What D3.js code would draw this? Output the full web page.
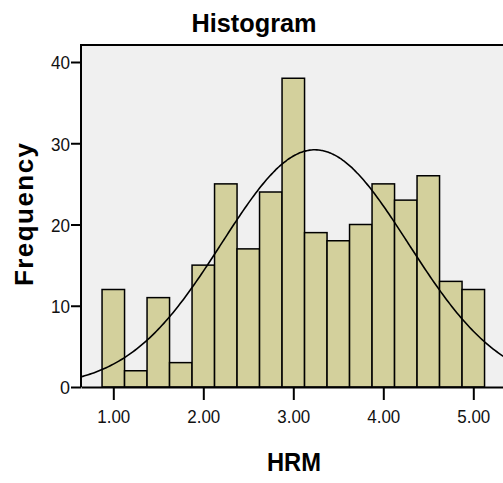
<!DOCTYPE html>
<html>
<head>
  <meta charset="utf-8">
  <title>Histogram</title>
  <style>
    body {
      margin: 0;
      background-color: white;
      font-family: Arial, "Liberation Sans", sans-serif;
    }
    .title { font-weight: bold; text-anchor: middle; }
    .axis-label { font-weight: bold; text-anchor: middle; }
  </style>
  <script src="https://d3js.org/d3.v7.min.js"></script>
</head>
<body>
  <svg id="chart" width="503" height="483"></svg>
  <script>
    // Bin centres (HRM) and counts
    const binCenters = [1.00, 1.25, 1.50, 1.75, 2.00, 2.25, 2.50, 2.75, 3.00,
                        3.25, 3.50, 3.75, 4.00, 4.25, 4.50, 4.75, 5.00];
    const counts = [12, 2, 11, 3, 15, 25, 17, 24, 38, 19, 18, 20, 25, 23, 26, 13, 12];
    const binWidth = 0.25;

    // Normal curve parameters (estimated from the overlay)
    const curveMean = 3.24;
    const curveSd = 1.035;

    const xTicks = [1, 2, 3, 4, 5];
    const yTicks = [0, 10, 20, 30, 40];

    const svg = d3.select("#chart");

    // Plot frame
    const plotLeft = 81, plotTop = 45, plotBottom = 387, plotRight = 530;

    const x = d3.scaleLinear()
      .domain([1 - (113.3 - plotLeft) / 90, 1 + (plotRight - 113.3) / 90])
      .range([plotLeft, plotRight]);
    const y = d3.scaleLinear()
      .domain([0, 40])
      .range([plotBottom, 62]);

    // Background
    svg.append("rect")
      .attr("x", plotLeft)
      .attr("y", plotTop)
      .attr("width", plotRight - plotLeft)
      .attr("height", plotBottom - plotTop)
      .attr("fill", "#f0f0f0");

    svg.append("defs").append("clipPath")
      .attr("id", "plot-clip")
      .append("rect")
      .attr("x", plotLeft)
      .attr("y", plotTop)
      .attr("width", plotRight - plotLeft)
      .attr("height", plotBottom - plotTop);

    // Bars
    svg.append("g")
      .selectAll("rect")
      .data(binCenters)
      .enter()
      .append("rect")
      .attr("x", d => x(d - binWidth / 2))
      .attr("y", (d, i) => y(counts[i]))
      .attr("width", d => x(d + binWidth / 2) - x(d - binWidth / 2))
      .attr("height", (d, i) => y(0) - y(counts[i]))
      .attr("fill", "#d3d09c")
      .attr("stroke", "black")
      .attr("stroke-width", 1.5);

    // Normal curve scaled to counts
    const total = d3.sum(counts);
    const density = v => total * binWidth / (curveSd * Math.sqrt(2 * Math.PI)) *
      Math.exp(-0.5 * Math.pow((v - curveMean) / curveSd, 2));
    const curvePts = d3.range(x.domain()[0], x.domain()[1], 0.02);

    svg.append("path")
      .datum(curvePts)
      .attr("clip-path", "url(#plot-clip)")
      .attr("fill", "none")
      .attr("stroke", "black")
      .attr("stroke-width", 1.6)
      .attr("d", d3.line().x(d => x(d)).y(d => y(density(d))).curve(d3.curveBasis));

    // Frame lines (left and top)
    svg.append("path")
      .attr("d", `M${plotLeft},${plotBottom}V${plotTop}H${plotRight}`)
      .attr("fill", "none")
      .attr("stroke", "black")
      .attr("stroke-width", 2);

    // X axis
    const xAxis = svg.append("g")
      .attr("transform", `translate(0,${plotBottom})`)
      .call(d3.axisBottom(x).tickValues(xTicks).tickSize(13).tickSizeOuter(0).tickFormat(d3.format(".2f")));
    xAxis.attr("font-family", "Arial, 'Liberation Sans', sans-serif").attr("font-size", 19);
    xAxis.select(".domain").attr("stroke-width", 2);
    xAxis.selectAll(".tick line").attr("stroke-width", 2);
    xAxis.selectAll(".tick text")
      .attr("fill", "#111")
      .attr("y", 36)
      .attr("dy", null)
      .attr("textLength", 33)
      .attr("lengthAdjust", "spacingAndGlyphs");

    // Y axis
    const yAxis = svg.append("g")
      .attr("transform", `translate(${plotLeft},0)`)
      .call(d3.axisLeft(y).tickValues(yTicks).tickSize(10).tickSizeOuter(0));
    yAxis.attr("font-family", "Arial, 'Liberation Sans', sans-serif").attr("font-size", 19);
    yAxis.select(".domain").remove();
    yAxis.selectAll(".tick line").attr("stroke-width", 2);
    yAxis.selectAll(".tick text")
      .attr("fill", "#111")
      .attr("x", -11)
      .attr("dy", "0.36em")
      .attr("textLength", d => d === 0 ? 10 : 19)
      .attr("lengthAdjust", "spacingAndGlyphs");

    // Title and axis labels
    svg.append("text")
      .attr("class", "title")
      .attr("x", 254)
      .attr("y", 31.5)
      .attr("font-size", 26)
      .attr("textLength", 125)
      .attr("lengthAdjust", "spacingAndGlyphs")
      .text("Histogram");

    svg.append("text")
      .attr("class", "axis-label")
      .attr("x", 294)
      .attr("y", 471)
      .attr("font-size", 26)
      .attr("textLength", 54)
      .attr("lengthAdjust", "spacingAndGlyphs")
      .text("HRM");

    svg.append("text")
      .attr("class", "axis-label")
      .attr("transform", "rotate(-90)")
      .attr("x", -214.5)
      .attr("y", 33)
      .attr("font-size", 26)
      .attr("textLength", 143)
      .attr("lengthAdjust", "spacing")
      .text("Frequency");
  </script>
</body>
</html>
